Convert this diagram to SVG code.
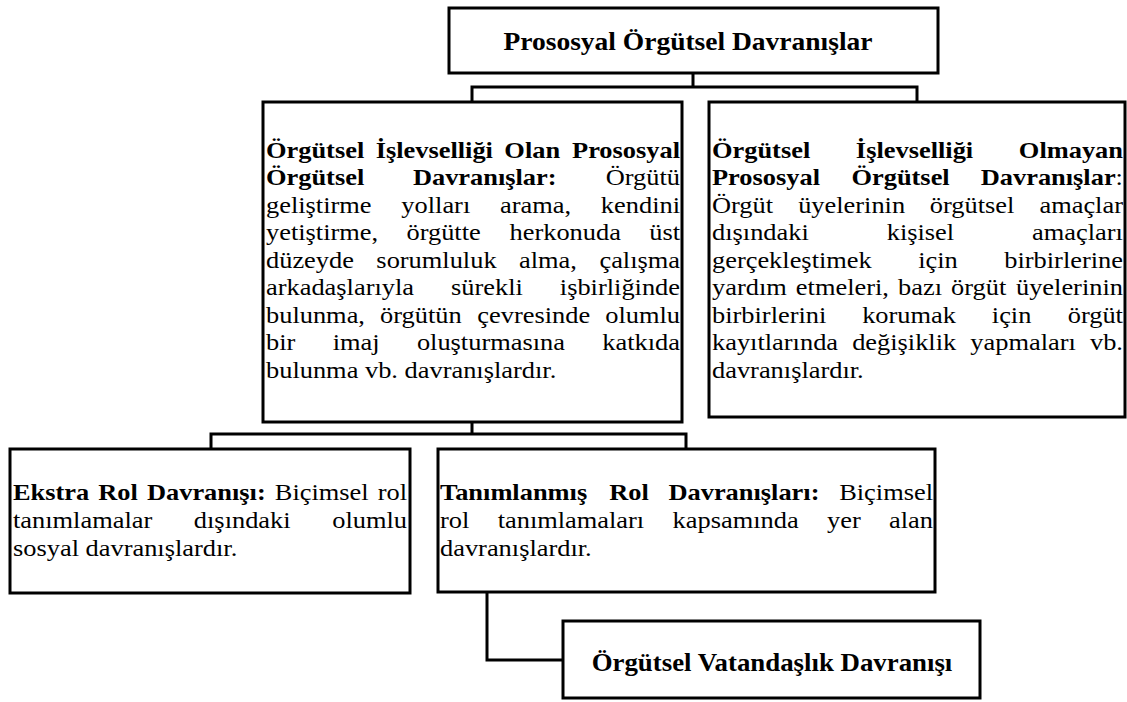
<svg xmlns="http://www.w3.org/2000/svg" width="1127" height="702" viewBox="0 0 1127 702" font-family="'Liberation Serif', 'Times New Roman', serif">
  <style>
    .box { fill: #ffffff; stroke: #000000; stroke-width: 3; }
    .wire { fill: none; stroke: #000000; stroke-width: 3; stroke-linejoin: miter; }
    text { font-family: 'Liberation Serif', 'Times New Roman', serif; font-size: 24px; fill: #000000; }
    .b { font-weight: bold; }
    .r { text-anchor: end; }
    .c { text-anchor: middle; }
    .title { font-size: 25px; font-weight: bold; }
    .sub { font-size: 24.4px; font-weight: bold; }
  </style>
  <rect width="1127" height="702" fill="#ffffff"/>

  <!-- connectors -->
  <g id="connectors">
    <path class="wire" d="M693,73 V87 M472,102 V87 H917 V102"/>
    <path class="wire" d="M472,422 V434 M211,449 V434 H686 V449"/>
    <path class="wire" d="M487,592 V660 H563"/>
  </g>

  <!-- root -->
  <g id="root">
    <rect class="box" x="449" y="8" width="489" height="65"/>
    <g transform="translate(688,0) scale(1.1,1)">
      <text class="title c" x="0" y="50">Prososyal Örgütsel Davranışlar</text>
    </g>
  </g>

  <!-- functional prosocial behaviour (justified, word by word) -->
  <g id="functional">
    <rect class="box" x="263" y="102" width="419" height="320"/>
    <g transform="translate(266,0) scale(1.1,1)">
      <text y="158"><tspan class="b" x="0">Örgütsel</tspan><tspan class="b" x="99.68">İşlevselliği</tspan><tspan class="b" x="216.71">Olan</tspan></text>
      <text class="b r" x="376.4" y="158">Prososyal</text>
      <text y="185.5"><tspan class="b" x="0">Örgütsel</tspan><tspan class="b" x="133.54">Davranışlar:</tspan></text>
      <text class="r" x="376.4" y="185.5">Örgütü</text>
      <text y="213"><tspan x="0">geliştirme</tspan><tspan x="123.04">yolları</tspan><tspan x="212.74">arama,</tspan></text>
      <text class="r" x="376.4" y="213">kendini</text>
      <text y="240.5"><tspan x="0">yetiştirme,</tspan><tspan x="127.7">örgütte</tspan><tspan x="221.39">herkonuda</tspan></text>
      <text class="r" x="376.4" y="240.5">üst</text>
      <text y="268"><tspan x="0">düzeyde</tspan><tspan x="100.34">sorumluluk</tspan><tspan x="230.05">alma,</tspan></text>
      <text class="r" x="376.4" y="268">çalışma</text>
      <text y="295.5"><tspan x="0">arkadaşlarıyla</tspan><tspan x="168.18">sürekli</tspan></text>
      <text class="r" x="376.4" y="295.5">işbirliğinde</text>
      <text y="323"><tspan x="0">bulunma,</tspan><tspan x="103.7">örgütün</tspan><tspan x="192.06">çevresinde</tspan></text>
      <text class="r" x="376.4" y="323">olumlu</text>
      <text y="350.5"><tspan x="0">bir</tspan><tspan x="60.58">imaj</tspan><tspan x="137.17">oluşturmasına</tspan></text>
      <text class="r" x="376.4" y="350.5">katkıda</text>
      <text x="0" y="378">bulunma vb. davranışlardır.</text>
    </g>
  </g>

  <!-- non-functional prosocial behaviour (justified, word by word) -->
  <g id="nonfunctional">
    <rect class="box" x="709" y="102" width="416" height="315"/>
    <g transform="translate(712,0) scale(1.1,1)">
      <text y="158"><tspan class="b" x="0">Örgütsel</tspan><tspan class="b" x="130.79">İşlevselliği</tspan></text>
      <text class="b r" x="373.6" y="158">Olmayan</text>
      <text y="185.5"><tspan class="b" x="0">Prososyal</tspan><tspan class="b" x="126.8">Örgütsel</tspan></text>
      <text class="r" x="373.6" y="185.5"><tspan class="b">Davranışlar</tspan>:</text>
      <text y="213"><tspan x="0">Örgüt</tspan><tspan x="78.32">üyelerinin</tspan><tspan x="197.97">örgütsel</tspan></text>
      <text class="r" x="373.6" y="213">amaçlar</text>
      <text y="240.5"><tspan x="0">dışındaki</tspan><tspan x="158.82">kişisel</tspan></text>
      <text class="r" x="373.6" y="240.5">amaçları</text>
      <text y="268"><tspan x="0">gerçekleştimek</tspan><tspan x="187.46">için</tspan></text>
      <text class="r" x="373.6" y="268">birbirlerine</text>
      <text y="295.5"><tspan x="0">yardım</tspan><tspan x="76.24">etmeleri,</tspan><tspan x="169.14">bazı</tspan><tspan x="217.37">örgüt</tspan></text>
      <text class="r" x="373.6" y="295.5">üyelerinin</text>
      <text y="323"><tspan x="0">birbirlerini</tspan><tspan x="136.53">korumak</tspan><tspan x="254.39">için</tspan></text>
      <text class="r" x="373.6" y="323">örgüt</text>
      <text y="350.5"><tspan x="0">kayıtlarında</tspan><tspan x="127.41">değişiklik</tspan><tspan x="234.85">yapmaları</tspan></text>
      <text class="r" x="373.6" y="350.5">vb.</text>
      <text x="0" y="378">davranışlardır.</text>
    </g>
  </g>

  <!-- extra-role behaviour -->
  <g id="extra-role">
    <rect class="box" x="10" y="449" width="400" height="144"/>
    <g transform="translate(13,0) scale(1.1,1)">
      <text y="500"><tspan class="b" x="0">Ekstra</tspan><tspan class="b" x="77.56">Rol</tspan><tspan class="b" x="121.77">Davranışı:</tspan><tspan x="237.99">Biçimsel</tspan></text>
      <text class="r" x="358.2" y="500">rol</text>
      <text y="528"><tspan x="0">tanımlamalar</tspan><tspan x="164.41">dışındaki</tspan></text>
      <text class="r" x="358.2" y="528">olumlu</text>
      <text x="0" y="556">sosyal davranışlardır.</text>
    </g>
  </g>

  <!-- in-role behaviour -->
  <g id="in-role">
    <rect class="box" x="438" y="449" width="497" height="143"/>
    <g transform="translate(440,0) scale(1.1,1)">
      <text y="500"><tspan class="b" x="0">Tanımlanmış</tspan><tspan class="b" x="153.86">Rol</tspan><tspan class="b" x="207.69">Davranışları:</tspan></text>
      <text class="r" x="448.2" y="500">Biçimsel</text>
      <text y="528"><tspan x="0">rol</tspan><tspan x="52.4">tanımlamaları</tspan><tspan x="211.46">kapsamında</tspan><tspan x="351.85">yer</tspan></text>
      <text class="r" x="448.2" y="528">alan</text>
      <text x="0" y="556">davranışlardır.</text>
    </g>
  </g>

  <!-- organizational citizenship behaviour -->
  <g id="citizenship">
    <rect class="box" x="563" y="621" width="417" height="77"/>
    <g transform="translate(772,0) scale(1.1,1)">
      <text class="sub c" x="0" y="671">Örgütsel Vatandaşlık Davranışı</text>
    </g>
  </g>
</svg>
